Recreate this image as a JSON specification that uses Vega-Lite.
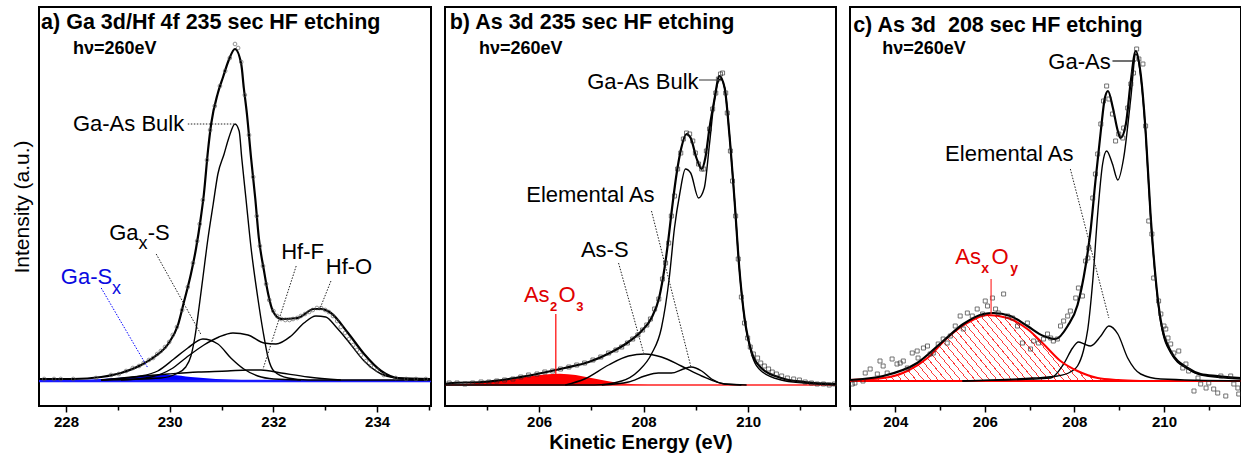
{
"$schema":"https://vega.github.io/schema/vega-lite/v6.json",
"padding":{"left":10,"top":6,"right":0,"bottom":0},
"spacing":14,
"bounds":"flush",
"config":{"font":"Liberation Sans","view":{"stroke":"black","strokeWidth":2},
"axis":{"grid":false,"domain":false,"labelFont":"Liberation Sans","labelFontSize":15,"labelFontWeight":"bold","labelColor":"black","tickColor":"black","tickWidth":1.5,"labelPadding":2,"titleFont":"Liberation Sans","titleColor":"black","labelOverlap":false,"labelFlush":false}},
"datasets":{
"A":[
{"s":"env","x":227.48,"y":1},{"s":"env","x":228.14,"y":1},{"s":"env","x":228.68,"y":3},{"s":"env","x":229.06,"y":7},{"s":"env","x":229.45,"y":15},{"s":"env","x":229.70,"y":23},{"s":"env","x":229.97,"y":36},{"s":"env","x":230.16,"y":55},{"s":"env","x":230.28,"y":79},{"s":"env","x":230.41,"y":106},{"s":"env","x":230.51,"y":132},{"s":"env","x":230.60,"y":162},{"s":"env","x":230.66,"y":186},{"s":"env","x":230.74,"y":230},{"s":"env","x":230.80,"y":256},{"s":"env","x":230.93,"y":287},{"s":"env","x":231.03,"y":303},{"s":"env","x":231.14,"y":320},{"s":"env","x":231.26,"y":331},{"s":"env","x":231.38,"y":316},{"s":"env","x":231.43,"y":292},{"s":"env","x":231.49,"y":266},{"s":"env","x":231.57,"y":222},{"s":"env","x":231.65,"y":182},{"s":"env","x":231.72,"y":142},{"s":"env","x":231.82,"y":109},{"s":"env","x":231.90,"y":86},{"s":"env","x":231.99,"y":69},{"s":"env","x":232.15,"y":61},{"s":"env","x":232.47,"y":62},{"s":"env","x":232.78,"y":71},{"s":"env","x":232.92,"y":71},{"s":"env","x":233.11,"y":67},{"s":"env","x":233.44,"y":47},{"s":"env","x":233.75,"y":26},{"s":"env","x":234.08,"y":9},{"s":"env","x":234.40,"y":2},{"s":"env","x":235.04,"y":1},
{"s":"bulk","x":228.68,"y":0},{"s":"bulk","x":229.83,"y":2},{"s":"bulk","x":230.12,"y":6},{"s":"bulk","x":230.31,"y":13},{"s":"bulk","x":230.41,"y":24},{"s":"bulk","x":230.49,"y":44},{"s":"bulk","x":230.57,"y":74},{"s":"bulk","x":230.64,"y":102},{"s":"bulk","x":230.74,"y":142},{"s":"bulk","x":230.84,"y":176},{"s":"bulk","x":230.93,"y":206},{"s":"bulk","x":231.05,"y":226},{"s":"bulk","x":231.14,"y":242},{"s":"bulk","x":231.26,"y":256},{"s":"bulk","x":231.34,"y":249},{"s":"bulk","x":231.39,"y":222},{"s":"bulk","x":231.47,"y":182},{"s":"bulk","x":231.57,"y":132},{"s":"bulk","x":231.70,"y":82},{"s":"bulk","x":231.80,"y":49},{"s":"bulk","x":231.90,"y":22},{"s":"bulk","x":232.01,"y":9},{"s":"bulk","x":232.28,"y":2},{"s":"bulk","x":232.67,"y":0},{"s":"bulk","x":235.04,"y":0},
{"s":"gaxs","x":228.68,"y":0},{"s":"gaxs","x":229.45,"y":4},{"s":"gaxs","x":229.77,"y":9},{"s":"gaxs","x":230.08,"y":21},{"s":"gaxs","x":230.35,"y":32},{"s":"gaxs","x":230.64,"y":41},{"s":"gaxs","x":230.93,"y":36},{"s":"gaxs","x":231.18,"y":22},{"s":"gaxs","x":231.43,"y":11},{"s":"gaxs","x":231.70,"y":4},{"s":"gaxs","x":232.01,"y":1},{"s":"gaxs","x":232.53,"y":0},
{"s":"hfo","x":229.06,"y":0},{"s":"hfo","x":229.64,"y":3},{"s":"hfo","x":230.03,"y":11},{"s":"hfo","x":230.31,"y":22},{"s":"hfo","x":230.66,"y":35},{"s":"hfo","x":230.95,"y":43},{"s":"hfo","x":231.22,"y":47},{"s":"hfo","x":231.51,"y":45},{"s":"hfo","x":231.82,"y":37},{"s":"hfo","x":232.05,"y":36},{"s":"hfo","x":232.34,"y":44},{"s":"hfo","x":232.59,"y":57},{"s":"hfo","x":232.82,"y":64},{"s":"hfo","x":233.01,"y":63},{"s":"hfo","x":233.21,"y":53},{"s":"hfo","x":233.44,"y":39},{"s":"hfo","x":233.75,"y":19},{"s":"hfo","x":234.08,"y":6},{"s":"hfo","x":234.36,"y":2},{"s":"hfo","x":234.98,"y":0},
{"s":"hff","x":228.68,"y":0},{"s":"hff","x":229.97,"y":6},{"s":"hff","x":230.55,"y":8},{"s":"hff","x":231.12,"y":9},{"s":"hff","x":231.51,"y":10},{"s":"hff","x":231.76,"y":10},{"s":"hff","x":232.15,"y":7},{"s":"hff","x":232.67,"y":3},{"s":"hff","x":233.30,"y":0},
{"s":"gasx","x":228.39,"y":0},{"s":"gasx","x":228.68,"y":1},{"s":"gasx","x":229.25,"y":3},{"s":"gasx","x":229.64,"y":5},{"s":"gasx","x":230.03,"y":5},{"s":"gasx","x":230.41,"y":3},{"s":"gasx","x":230.89,"y":1},{"s":"gasx","x":231.38,"y":0},
{"s":"raw","x":227.58,"y":1},{"s":"raw","x":227.77,"y":1},{"s":"raw","x":227.90,"y":1},{"s":"raw","x":228.14,"y":1},{"s":"raw","x":228.58,"y":2},{"s":"raw","x":228.87,"y":5},{"s":"raw","x":229.02,"y":6},{"s":"raw","x":229.16,"y":9},{"s":"raw","x":229.29,"y":12},{"s":"raw","x":229.41,"y":14},{"s":"raw","x":229.50,"y":17},{"s":"raw","x":229.60,"y":20},{"s":"raw","x":229.68,"y":22},{"s":"raw","x":229.76,"y":26},{"s":"raw","x":229.83,"y":29},{"s":"raw","x":229.91,"y":33},{"s":"raw","x":229.99,"y":38},{"s":"raw","x":230.06,"y":45},{"s":"raw","x":230.14,"y":53},{"s":"raw","x":230.24,"y":70},{"s":"raw","x":230.35,"y":93},{"s":"raw","x":230.45,"y":117},{"s":"raw","x":230.53,"y":139},{"s":"raw","x":230.58,"y":156},{"s":"raw","x":230.64,"y":180},{"s":"raw","x":230.72,"y":220},{"s":"raw","x":230.78,"y":250},{"s":"raw","x":230.87,"y":274},{"s":"raw","x":230.97,"y":294},{"s":"raw","x":231.07,"y":309},{"s":"raw","x":231.16,"y":322},{"s":"raw","x":231.26,"y":336},{"s":"raw","x":231.32,"y":332},{"s":"raw","x":231.38,"y":318},{"s":"raw","x":231.45,"y":285},{"s":"raw","x":231.53,"y":245},{"s":"raw","x":231.61,"y":203},{"s":"raw","x":231.68,"y":164},{"s":"raw","x":231.74,"y":134},{"s":"raw","x":231.80,"y":114},{"s":"raw","x":231.86,"y":96},{"s":"raw","x":231.92,"y":80},{"s":"raw","x":232.00,"y":69},{"s":"raw","x":232.07,"y":64},{"s":"raw","x":232.15,"y":61},{"s":"raw","x":232.23,"y":60},{"s":"raw","x":232.31,"y":60},{"s":"raw","x":232.38,"y":61},{"s":"raw","x":232.46,"y":62},{"s":"raw","x":232.53,"y":64},{"s":"raw","x":232.61,"y":66},{"s":"raw","x":232.69,"y":68},{"s":"raw","x":232.76,"y":70},{"s":"raw","x":232.84,"y":72},{"s":"raw","x":232.92,"y":72},{"s":"raw","x":233.00,"y":70},{"s":"raw","x":233.07,"y":68},{"s":"raw","x":233.15,"y":64},{"s":"raw","x":233.23,"y":59},{"s":"raw","x":233.30,"y":53},{"s":"raw","x":233.38,"y":47},{"s":"raw","x":233.46,"y":41},{"s":"raw","x":233.54,"y":35},{"s":"raw","x":233.61,"y":30},{"s":"raw","x":233.69,"y":25},{"s":"raw","x":233.79,"y":19},{"s":"raw","x":233.88,"y":14},{"s":"raw","x":234.00,"y":10},{"s":"raw","x":234.13,"y":5},{"s":"raw","x":234.36,"y":2},{"s":"raw","x":234.56,"y":1},{"s":"raw","x":234.75,"y":1},{"s":"raw","x":234.94,"y":1},
{"s":"base","x":227.48,"y":-1,"x2":235.04,"y2":-1},
{"s":"dot","x":230.35,"y":256,"x2":231.24,"y2":256},{"s":"dot","x":229.74,"y":126,"x2":230.60,"y2":46},{"s":"dot","x":232.44,"y":114,"x2":231.80,"y2":11},{"s":"dot","x":233.11,"y":99,"x2":232.88,"y2":69},
{"s":"bdot","x":228.68,"y":92,"x2":229.58,"y2":12},
{"s":"title","x":227.52,"y":351,"t":"a) Ga 3d/Hf 4f 235 sec HF etching"},
{"s":"hv","x":228.135,"y":326,"t":"hν=260eV"},
{"s":"labr","x":230.28,"y":249,"t":"Ga-As Bulk"},
{"s":"lab","x":228.835,"y":140,"t":"Ga"},{"s":"sub","x":229.40,"y":131,"t":"x"},{"s":"lab","x":229.575,"y":140,"t":"-S"},
{"s":"lab","x":232.15,"y":121,"t":"Hf-F"},{"s":"lab","x":233.01,"y":106,"t":"Hf-O"},
{"s":"blab","x":227.90,"y":96,"t":"Ga-S"},{"s":"bsub","x":228.89,"y":86,"t":"x"}
],
"B":[
{"s":"env","x":204.20,"y":1},{"s":"env","x":204.33,"y":2},{"s":"env","x":204.91,"y":3},{"s":"env","x":205.54,"y":7},{"s":"env","x":206.05,"y":12},{"s":"env","x":206.49,"y":17},{"s":"env","x":206.95,"y":23},{"s":"env","x":207.39,"y":33},{"s":"env","x":207.71,"y":43},{"s":"env","x":207.96,"y":54},{"s":"env","x":208.15,"y":67},{"s":"env","x":208.30,"y":88},{"s":"env","x":208.40,"y":117},{"s":"env","x":208.47,"y":144},{"s":"env","x":208.53,"y":171},{"s":"env","x":208.63,"y":211},{"s":"env","x":208.72,"y":237},{"s":"env","x":208.82,"y":251},{"s":"env","x":208.90,"y":247},{"s":"env","x":209.01,"y":227},{"s":"env","x":209.11,"y":216},{"s":"env","x":209.18,"y":227},{"s":"env","x":209.26,"y":257},{"s":"env","x":209.35,"y":284},{"s":"env","x":209.45,"y":309},{"s":"env","x":209.55,"y":297},{"s":"env","x":209.64,"y":251},{"s":"env","x":209.74,"y":184},{"s":"env","x":209.83,"y":117},{"s":"env","x":209.93,"y":67},{"s":"env","x":210.06,"y":34},{"s":"env","x":210.25,"y":17},{"s":"env","x":210.63,"y":7},{"s":"env","x":211.07,"y":3},{"s":"env","x":211.68,"y":1},
{"s":"bulk","x":204.20,"y":0},{"s":"bulk","x":207.06,"y":0},{"s":"bulk","x":207.58,"y":4},{"s":"bulk","x":207.90,"y":14},{"s":"bulk","x":208.15,"y":31},{"s":"bulk","x":208.34,"y":57},{"s":"bulk","x":208.49,"y":107},{"s":"bulk","x":208.59,"y":157},{"s":"bulk","x":208.69,"y":191},{"s":"bulk","x":208.80,"y":216},{"s":"bulk","x":208.90,"y":212},{"s":"bulk","x":209.05,"y":187},{"s":"bulk","x":209.16,"y":197},{"s":"bulk","x":209.26,"y":241},{"s":"bulk","x":209.35,"y":284},{"s":"bulk","x":209.47,"y":306},{"s":"bulk","x":209.55,"y":297},{"s":"bulk","x":209.64,"y":251},{"s":"bulk","x":209.74,"y":184},{"s":"bulk","x":209.83,"y":117},{"s":"bulk","x":209.93,"y":66},{"s":"bulk","x":210.06,"y":32},{"s":"bulk","x":210.25,"y":14},{"s":"bulk","x":210.63,"y":5},{"s":"bulk","x":211.07,"y":2},{"s":"bulk","x":211.68,"y":0},
{"s":"elem","x":207.20,"y":0},{"s":"elem","x":207.71,"y":3},{"s":"elem","x":208.02,"y":9},{"s":"elem","x":208.28,"y":12},{"s":"elem","x":208.53,"y":12},{"s":"elem","x":208.76,"y":16},{"s":"elem","x":208.91,"y":18},{"s":"elem","x":209.11,"y":14},{"s":"elem","x":209.30,"y":6},{"s":"elem","x":209.55,"y":1},{"s":"elem","x":209.87,"y":0},
{"s":"ass","x":206.50,"y":0},{"s":"ass","x":206.87,"y":6},{"s":"ass","x":207.33,"y":20},{"s":"ass","x":207.71,"y":29},{"s":"ass","x":208.02,"y":31},{"s":"ass","x":208.34,"y":28},{"s":"ass","x":208.72,"y":19},{"s":"ass","x":209.11,"y":9},{"s":"ass","x":209.55,"y":1},{"s":"ass","x":209.97,"y":0},
{"s":"ox","x":204.22,"y":0},{"s":"ox","x":204.70,"y":1.5},{"s":"ox","x":205.10,"y":3.5},{"s":"ox","x":205.50,"y":6},{"s":"ox","x":205.80,"y":8.5},{"s":"ox","x":206.10,"y":10.5},{"s":"ox","x":206.40,"y":11.3},{"s":"ox","x":206.70,"y":10},{"s":"ox","x":207.00,"y":7},{"s":"ox","x":207.30,"y":4},{"s":"ox","x":207.64,"y":1.5},{"s":"ox","x":208.09,"y":0},
{"s":"raw","x":204.28,"y":2},{"s":"raw","x":204.43,"y":2},{"s":"raw","x":204.58,"y":1},{"s":"raw","x":204.73,"y":2},{"s":"raw","x":204.89,"y":3},{"s":"raw","x":205.04,"y":3},{"s":"raw","x":205.19,"y":4},{"s":"raw","x":205.34,"y":5},{"s":"raw","x":205.50,"y":6},{"s":"raw","x":205.65,"y":8},{"s":"raw","x":205.80,"y":10},{"s":"raw","x":205.96,"y":11},{"s":"raw","x":206.11,"y":13},{"s":"raw","x":206.26,"y":14},{"s":"raw","x":206.41,"y":16},{"s":"raw","x":206.57,"y":18},{"s":"raw","x":206.72,"y":20},{"s":"raw","x":206.87,"y":22},{"s":"raw","x":207.03,"y":25},{"s":"raw","x":207.18,"y":28},{"s":"raw","x":207.33,"y":32},{"s":"raw","x":207.47,"y":35},{"s":"raw","x":207.58,"y":38},{"s":"raw","x":207.69,"y":42},{"s":"raw","x":207.79,"y":46},{"s":"raw","x":207.89,"y":50},{"s":"raw","x":207.98,"y":55},{"s":"raw","x":208.06,"y":60},{"s":"raw","x":208.13,"y":66},{"s":"raw","x":208.21,"y":76},{"s":"raw","x":208.29,"y":86},{"s":"raw","x":208.36,"y":106},{"s":"raw","x":208.42,"y":122},{"s":"raw","x":208.48,"y":142},{"s":"raw","x":208.53,"y":169},{"s":"raw","x":208.59,"y":189},{"s":"raw","x":208.65,"y":216},{"s":"raw","x":208.71,"y":232},{"s":"raw","x":208.76,"y":246},{"s":"raw","x":208.82,"y":252},{"s":"raw","x":208.88,"y":251},{"s":"raw","x":208.94,"y":244},{"s":"raw","x":208.99,"y":232},{"s":"raw","x":209.05,"y":221},{"s":"raw","x":209.11,"y":216},{"s":"raw","x":209.15,"y":216},{"s":"raw","x":209.20,"y":234},{"s":"raw","x":209.26,"y":256},{"s":"raw","x":209.32,"y":276},{"s":"raw","x":209.38,"y":292},{"s":"raw","x":209.43,"y":306},{"s":"raw","x":209.47,"y":311},{"s":"raw","x":209.51,"y":312},{"s":"raw","x":209.57,"y":292},{"s":"raw","x":209.60,"y":272},{"s":"raw","x":209.66,"y":234},{"s":"raw","x":209.70,"y":204},{"s":"raw","x":209.76,"y":169},{"s":"raw","x":209.81,"y":126},{"s":"raw","x":209.87,"y":88},{"s":"raw","x":209.93,"y":62},{"s":"raw","x":209.99,"y":47},{"s":"raw","x":210.04,"y":38},{"s":"raw","x":210.10,"y":31},{"s":"raw","x":210.18,"y":27},{"s":"raw","x":210.24,"y":22},{"s":"raw","x":210.31,"y":19},{"s":"raw","x":210.39,"y":16},{"s":"raw","x":210.46,"y":13},{"s":"raw","x":210.54,"y":11},{"s":"raw","x":210.64,"y":9},{"s":"raw","x":210.75,"y":7},{"s":"raw","x":210.87,"y":6},{"s":"raw","x":210.98,"y":5},{"s":"raw","x":211.09,"y":3},{"s":"raw","x":211.21,"y":2},{"s":"raw","x":211.32,"y":1},{"s":"raw","x":211.44,"y":1},{"s":"raw","x":211.55,"y":0},{"s":"raw","x":211.65,"y":1},
{"s":"base","x":204.2,"y":0,"x2":211.68,"y2":0},
{"s":"dot","x":208.15,"y":174,"x2":208.91,"y2":17},{"s":"dot","x":207.52,"y":122,"x2":208.00,"y2":32},
{"s":"sol","x":209.06,"y":305,"x2":209.43,"y2":305},
{"s":"rsol","x":206.32,"y":71,"x2":206.32,"y2":11},
{"s":"title","x":204.29,"y":356,"t":"b) As 3d 235 sec HF etching"},
{"s":"hv","x":204.85,"y":331,"t":"hν=260eV"},
{"s":"labr","x":209.05,"y":296,"t":"Ga-As Bulk"},
{"s":"labr","x":208.21,"y":183,"t":"Elemental As"},
{"s":"lab","x":206.80,"y":128,"t":"As-S"},
{"s":"rlab","x":205.71,"y":83,"t":"As"},{"s":"rsub","x":206.21,"y":74,"t":"2"},{"s":"rlab","x":206.37,"y":83,"t":"O"},{"s":"rsub","x":206.71,"y":74,"t":"3"}
],
"C":[
{"s":"env","x":202.99,"y":1},{"s":"env","x":203.73,"y":5},{"s":"env","x":204.49,"y":18},{"s":"env","x":205.07,"y":40},{"s":"env","x":205.52,"y":57},{"s":"env","x":205.97,"y":67},{"s":"env","x":206.19,"y":68},{"s":"env","x":206.57,"y":65},{"s":"env","x":206.95,"y":55},{"s":"env","x":207.31,"y":45},{"s":"env","x":207.58,"y":42},{"s":"env","x":207.85,"y":55},{"s":"env","x":208.07,"y":76},{"s":"env","x":208.25,"y":115},{"s":"env","x":208.36,"y":150},{"s":"env","x":208.47,"y":200},{"s":"env","x":208.59,"y":250},{"s":"env","x":208.68,"y":283},{"s":"env","x":208.75,"y":290},{"s":"env","x":208.86,"y":273},{"s":"env","x":208.97,"y":250},{"s":"env","x":209.03,"y":243},{"s":"env","x":209.15,"y":257},{"s":"env","x":209.26,"y":300},{"s":"env","x":209.37,"y":330},{"s":"env","x":209.48,"y":307},{"s":"env","x":209.59,"y":250},{"s":"env","x":209.70,"y":167},{"s":"env","x":209.82,"y":100},{"s":"env","x":209.93,"y":60},{"s":"env","x":210.15,"y":30},{"s":"env","x":210.53,"y":13},{"s":"env","x":210.82,"y":7},{"s":"env","x":211.20,"y":5},{"s":"env","x":211.72,"y":3},
{"s":"gaas","x":205.50,"y":0},{"s":"gaas","x":207.09,"y":3},{"s":"gaas","x":207.62,"y":5},{"s":"gaas","x":207.91,"y":9},{"s":"gaas","x":208.07,"y":15},{"s":"gaas","x":208.20,"y":30},{"s":"gaas","x":208.30,"y":52},{"s":"gaas","x":208.41,"y":100},{"s":"gaas","x":208.52,"y":167},{"s":"gaas","x":208.63,"y":217},{"s":"gaas","x":208.72,"y":230},{"s":"gaas","x":208.85,"y":217},{"s":"gaas","x":208.97,"y":201},{"s":"gaas","x":209.10,"y":223},{"s":"gaas","x":209.26,"y":283},{"s":"gaas","x":209.37,"y":327},{"s":"gaas","x":209.48,"y":305},{"s":"gaas","x":209.59,"y":248},{"s":"gaas","x":209.70,"y":165},{"s":"gaas","x":209.82,"y":98},{"s":"gaas","x":209.93,"y":58},{"s":"gaas","x":210.15,"y":28},{"s":"gaas","x":210.53,"y":12},{"s":"gaas","x":210.82,"y":6},{"s":"gaas","x":211.72,"y":2},
{"s":"elem","x":205.50,"y":0},{"s":"elem","x":207.47,"y":3},{"s":"elem","x":207.76,"y":17},{"s":"elem","x":207.96,"y":33},{"s":"elem","x":208.09,"y":39},{"s":"elem","x":208.22,"y":37},{"s":"elem","x":208.36,"y":35},{"s":"elem","x":208.59,"y":45},{"s":"elem","x":208.77,"y":55},{"s":"elem","x":208.97,"y":47},{"s":"elem","x":209.19,"y":23},{"s":"elem","x":209.48,"y":7},{"s":"elem","x":209.93,"y":2},{"s":"elem","x":211.72,"y":0},
{"s":"ox","x":202.99,"y":1},{"s":"ox","x":203.73,"y":3},{"s":"ox","x":204.27,"y":10},{"s":"ox","x":204.72,"y":23},{"s":"ox","x":205.16,"y":43},{"s":"ox","x":205.61,"y":58},{"s":"ox","x":206.06,"y":66},{"s":"ox","x":206.51,"y":63},{"s":"ox","x":206.95,"y":52},{"s":"ox","x":207.31,"y":37},{"s":"ox","x":207.69,"y":20},{"s":"ox","x":208.07,"y":10},{"s":"ox","x":208.52,"y":3},{"s":"ox","x":208.97,"y":1},{"s":"ox","x":209.48,"y":0},
{"s":"raw","x":203.04,"y":-3},{"s":"raw","x":203.10,"y":-2},{"s":"raw","x":203.28,"y":0},{"s":"raw","x":203.33,"y":8},{"s":"raw","x":203.44,"y":12},{"s":"raw","x":203.60,"y":7},{"s":"raw","x":203.66,"y":20},{"s":"raw","x":203.73,"y":15},{"s":"raw","x":203.82,"y":8},{"s":"raw","x":203.93,"y":22},{"s":"raw","x":204.04,"y":17},{"s":"raw","x":204.11,"y":18},{"s":"raw","x":204.18,"y":20},{"s":"raw","x":204.27,"y":13},{"s":"raw","x":204.38,"y":28},{"s":"raw","x":204.49,"y":30},{"s":"raw","x":204.51,"y":23},{"s":"raw","x":204.63,"y":33},{"s":"raw","x":204.72,"y":35},{"s":"raw","x":204.78,"y":27},{"s":"raw","x":204.85,"y":28},{"s":"raw","x":204.96,"y":37},{"s":"raw","x":205.07,"y":42},{"s":"raw","x":205.16,"y":38},{"s":"raw","x":205.23,"y":45},{"s":"raw","x":205.34,"y":55},{"s":"raw","x":205.45,"y":65},{"s":"raw","x":205.52,"y":52},{"s":"raw","x":205.61,"y":68},{"s":"raw","x":205.72,"y":65},{"s":"raw","x":205.83,"y":72},{"s":"raw","x":205.95,"y":67},{"s":"raw","x":206.01,"y":80},{"s":"raw","x":206.06,"y":75},{"s":"raw","x":206.17,"y":83},{"s":"raw","x":206.24,"y":72},{"s":"raw","x":206.30,"y":68},{"s":"raw","x":206.42,"y":87},{"s":"raw","x":206.51,"y":65},{"s":"raw","x":206.62,"y":63},{"s":"raw","x":206.73,"y":55},{"s":"raw","x":206.84,"y":38},{"s":"raw","x":206.95,"y":58},{"s":"raw","x":207.02,"y":32},{"s":"raw","x":207.09,"y":40},{"s":"raw","x":207.20,"y":38},{"s":"raw","x":207.31,"y":42},{"s":"raw","x":207.40,"y":47},{"s":"raw","x":207.47,"y":43},{"s":"raw","x":207.53,"y":40},{"s":"raw","x":207.62,"y":42},{"s":"raw","x":207.69,"y":55},{"s":"raw","x":207.76,"y":60},{"s":"raw","x":207.85,"y":65},{"s":"raw","x":207.91,"y":70},{"s":"raw","x":208.03,"y":83},{"s":"raw","x":208.09,"y":93},{"s":"raw","x":208.18,"y":85},{"s":"raw","x":208.25,"y":120},{"s":"raw","x":208.30,"y":123},{"s":"raw","x":208.32,"y":133},{"s":"raw","x":208.41,"y":183},{"s":"raw","x":208.47,"y":207},{"s":"raw","x":208.52,"y":227},{"s":"raw","x":208.59,"y":257},{"s":"raw","x":208.65,"y":280},{"s":"raw","x":208.72,"y":295},{"s":"raw","x":208.77,"y":282},{"s":"raw","x":208.85,"y":267},{"s":"raw","x":208.92,"y":240},{"s":"raw","x":208.99,"y":247},{"s":"raw","x":209.08,"y":243},{"s":"raw","x":209.10,"y":253},{"s":"raw","x":209.19,"y":273},{"s":"raw","x":209.26,"y":297},{"s":"raw","x":209.32,"y":308},{"s":"raw","x":209.39,"y":332},{"s":"raw","x":209.44,"y":322},{"s":"raw","x":209.53,"y":317},{"s":"raw","x":209.59,"y":255},{"s":"raw","x":209.66,"y":160},{"s":"raw","x":209.73,"y":147},{"s":"raw","x":209.77,"y":103},{"s":"raw","x":209.88,"y":80},{"s":"raw","x":209.93,"y":67},{"s":"raw","x":210.00,"y":55},{"s":"raw","x":210.04,"y":52},{"s":"raw","x":210.09,"y":43},{"s":"raw","x":210.15,"y":37},{"s":"raw","x":210.22,"y":28},{"s":"raw","x":210.33,"y":30},{"s":"raw","x":210.42,"y":13},{"s":"raw","x":210.49,"y":17},{"s":"raw","x":210.55,"y":10},{"s":"raw","x":210.67,"y":-10},{"s":"raw","x":210.76,"y":3},{"s":"raw","x":210.82,"y":-3},{"s":"raw","x":210.94,"y":-7},{"s":"raw","x":211.00,"y":-2},{"s":"raw","x":211.11,"y":-8},{"s":"raw","x":211.20,"y":-12},{"s":"raw","x":211.27,"y":5},{"s":"raw","x":211.38,"y":-15},{"s":"raw","x":211.49,"y":5},{"s":"raw","x":211.56,"y":-3},{"s":"raw","x":211.65,"y":-7},{"s":"raw","x":211.67,"y":-13},
{"s":"base","x":202.99,"y":0,"x2":211.72,"y2":0},
{"s":"sol","x":208.85,"y":320,"x2":209.37,"y2":320},
{"s":"dot","x":207.91,"y":212,"x2":208.77,"y2":63},
{"s":"rsol","x":206.14,"y":102,"x2":206.14,"y2":67},
{"s":"title","x":203.06,"y":349,"t":"c) As 3d\u00a0 208 sec HF etching"},
{"s":"hv","x":203.71,"y":327,"t":"hν=260eV"},
{"s":"labr","x":208.81,"y":312,"t":"Ga-As"},
{"s":"labr","x":207.98,"y":220,"t":"Elemental As"},
{"s":"rlab","x":205.34,"y":117,"t":"As"},{"s":"rsub","x":205.92,"y":108,"t":"x"},{"s":"rlab","x":206.15,"y":117,"t":"O"},{"s":"rsub","x":206.57,"y":108,"t":"y"}
]
},
"hconcat":[
{"width":392,"height":399,"data":{"name":"A"},
"encoding":{
"x":{"field":"x","type":"quantitative","scale":{"domain":[227.48,235.04],"nice":false,"zero":false},"axis":{"values":[228,229,230,231,232,233,234,235],"labelExpr":"datum.value % 2 === 0 ? datum.label : ''","tickSize":{"condition":{"test":"datum.value % 2 === 0","value":6},"value":4},"title":null,"format":"d"}},
"y":{"field":"y","type":"quantitative","scale":{"domain":[-26,373],"nice":false,"zero":false},"axis":{"title":"Intensity (a.u.)","labels":false,"ticks":false,"domain":false,"titleFontSize":21,"titleFontWeight":"normal","titlePadding":7}}},
"layer":[
{"transform":[{"filter":"datum.s=='gasx'"}],"mark":{"type":"area","color":"#0000ff","interpolate":"monotone"},"encoding":{"y2":{"datum":0}}},
{"transform":[{"filter":"datum.s=='base'"}],"mark":{"type":"rule","color":"#1a1aff","strokeWidth":2.5},"encoding":{"x2":{"field":"x2"},"y2":{"field":"y2"}}},
{"transform":[{"filter":"indexof(['bulk','gaxs','hfo','hff'], datum.s) >= 0"}],"mark":{"type":"line","color":"black","strokeWidth":1.4,"interpolate":"monotone"},"encoding":{"detail":{"field":"s"}}},
{"transform":[{"filter":"datum.s=='env'"}],"mark":{"type":"line","color":"black","strokeWidth":2.2,"interpolate":"monotone"}},
{"transform":[{"filter":"datum.s=='raw'"}],"mark":{"type":"point","shape":"circle","filled":false,"color":"#555555","size":14,"strokeWidth":0.9}},
{"transform":[{"filter":"datum.s=='dot'"}],"mark":{"type":"rule","color":"#222222","strokeWidth":1,"strokeDash":[1.5,1.5]},"encoding":{"x2":{"field":"x2"},"y2":{"field":"y2"}}},
{"transform":[{"filter":"datum.s=='bdot'"}],"mark":{"type":"rule","color":"#0000ff","strokeWidth":1,"strokeDash":[1.5,1.5]},"encoding":{"x2":{"field":"x2"},"y2":{"field":"y2"}}},
{"transform":[{"filter":"datum.s=='title'"}],"mark":{"type":"text","align":"left","baseline":"alphabetic","fontSize":21.5,"fontWeight":"bold","color":"black"},"encoding":{"text":{"field":"t"}}},
{"transform":[{"filter":"datum.s=='hv'"}],"mark":{"type":"text","align":"left","baseline":"alphabetic","fontSize":18,"fontWeight":"bold","color":"black"},"encoding":{"text":{"field":"t"}}},
{"transform":[{"filter":"datum.s=='lab'"}],"mark":{"type":"text","align":"left","baseline":"alphabetic","fontSize":22,"color":"black"},"encoding":{"text":{"field":"t"}}},
{"transform":[{"filter":"datum.s=='labr'"}],"mark":{"type":"text","align":"right","baseline":"alphabetic","fontSize":22,"color":"black"},"encoding":{"text":{"field":"t"}}},
{"transform":[{"filter":"datum.s=='sub'"}],"mark":{"type":"text","align":"left","baseline":"alphabetic","fontSize":18,"color":"black"},"encoding":{"text":{"field":"t"}}},
{"transform":[{"filter":"datum.s=='blab'"}],"mark":{"type":"text","align":"left","baseline":"alphabetic","fontSize":22,"color":"#0a0ae0"},"encoding":{"text":{"field":"t"}}},
{"transform":[{"filter":"datum.s=='bsub'"}],"mark":{"type":"text","align":"left","baseline":"alphabetic","fontSize":18,"color":"#0a0ae0"},"encoding":{"text":{"field":"t"}}}
]},
{"width":391,"height":399,"data":{"name":"B"},
"encoding":{
"x":{"field":"x","type":"quantitative","scale":{"domain":[204.2,211.68],"nice":false,"zero":false},"axis":{"values":[205,206,207,208,209,210,211],"labelExpr":"datum.value % 2 === 0 ? datum.label : ''","tickSize":{"condition":{"test":"datum.value % 2 === 0","value":6},"value":4},"title":"Kinetic Energy (eV)","titleFontSize":20,"titleFontWeight":"bold","titlePadding":3,"format":"d"}},
"y":{"field":"y","type":"quantitative","scale":{"domain":[-21,378],"nice":false,"zero":false},"axis":null}},
"layer":[
{"transform":[{"filter":"datum.s=='ox'"}],"mark":{"type":"area","color":"#ff0000","interpolate":"monotone"},"encoding":{"y2":{"datum":0}}},
{"transform":[{"filter":"datum.s=='base'"}],"mark":{"type":"rule","color":"#ff2020","strokeWidth":1.5},"encoding":{"x2":{"field":"x2"},"y2":{"field":"y2"}}},
{"transform":[{"filter":"indexof(['bulk','elem','ass'], datum.s) >= 0"}],"mark":{"type":"line","color":"black","strokeWidth":1.4,"interpolate":"monotone"},"encoding":{"detail":{"field":"s"}}},
{"transform":[{"filter":"datum.s=='env'"}],"mark":{"type":"line","color":"black","strokeWidth":2.2,"interpolate":"monotone"}},
{"transform":[{"filter":"datum.s=='raw'"}],"mark":{"type":"point","shape":"square","filled":false,"color":"#222222","size":16,"strokeWidth":0.9}},
{"transform":[{"filter":"datum.s=='dot'"}],"mark":{"type":"rule","color":"#222222","strokeWidth":1,"strokeDash":[1.5,1.5]},"encoding":{"x2":{"field":"x2"},"y2":{"field":"y2"}}},
{"transform":[{"filter":"datum.s=='sol'"}],"mark":{"type":"rule","color":"#555555","strokeWidth":1.2},"encoding":{"x2":{"field":"x2"},"y2":{"field":"y2"}}},
{"transform":[{"filter":"datum.s=='rsol'"}],"mark":{"type":"rule","color":"#ff0000","strokeWidth":1.2},"encoding":{"x2":{"field":"x2"},"y2":{"field":"y2"}}},
{"transform":[{"filter":"datum.s=='title'"}],"mark":{"type":"text","align":"left","baseline":"alphabetic","fontSize":21.5,"fontWeight":"bold","color":"black"},"encoding":{"text":{"field":"t"}}},
{"transform":[{"filter":"datum.s=='hv'"}],"mark":{"type":"text","align":"left","baseline":"alphabetic","fontSize":18,"fontWeight":"bold","color":"black"},"encoding":{"text":{"field":"t"}}},
{"transform":[{"filter":"datum.s=='lab'"}],"mark":{"type":"text","align":"left","baseline":"alphabetic","fontSize":22,"color":"black"},"encoding":{"text":{"field":"t"}}},
{"transform":[{"filter":"datum.s=='labr'"}],"mark":{"type":"text","align":"right","baseline":"alphabetic","fontSize":22,"color":"black"},"encoding":{"text":{"field":"t"}}},
{"transform":[{"filter":"datum.s=='rlab'"}],"mark":{"type":"text","align":"left","baseline":"alphabetic","fontSize":22,"color":"#e00000"},"encoding":{"text":{"field":"t"}}},
{"transform":[{"filter":"datum.s=='rsub'"}],"mark":{"type":"text","align":"left","baseline":"alphabetic","fontSize":13,"fontWeight":"bold","color":"#e00000"},"encoding":{"text":{"field":"t"}}}
]},
{"width":391,"height":399,"data":{"name":"C"},
"encoding":{
"x":{"field":"x","type":"quantitative","scale":{"domain":[202.99,211.72],"nice":false,"zero":false},"axis":{"values":[203,204,205,206,207,208,209,210,211],"labelExpr":"datum.value % 2 === 0 ? datum.label : ''","tickSize":{"condition":{"test":"datum.value % 2 === 0","value":6},"value":4},"title":null,"format":"d"}},
"y":{"field":"y","type":"quantitative","scale":{"domain":[-25,374],"nice":false,"zero":false},"axis":null}},
"layer":[
{"transform":[{"filter":"datum.s=='ox'"}],"mark":{"type":"area","interpolate":"monotone","fill":{"gradient":"linear","x1":0,"y1":1,"x2":1,"y2":0.811,"stops":[
{"offset":0,"color":"#ff3c3c"},{"offset":0.0035,"color":"#ff3c3c"},{"offset":0.0035,"color":"#ffffff"},
{"offset":0.0245,"color":"#ffffff"},{"offset":0.0245,"color":"#ff3c3c"},{"offset":0.028,"color":"#ff3c3c"},{"offset":0.028,"color":"#ffffff"},
{"offset":0.049,"color":"#ffffff"},{"offset":0.049,"color":"#ff3c3c"},{"offset":0.0525,"color":"#ff3c3c"},{"offset":0.0525,"color":"#ffffff"},
{"offset":0.0735,"color":"#ffffff"},{"offset":0.0735,"color":"#ff3c3c"},{"offset":0.077,"color":"#ff3c3c"},{"offset":0.077,"color":"#ffffff"},
{"offset":0.098,"color":"#ffffff"},{"offset":0.098,"color":"#ff3c3c"},{"offset":0.1015,"color":"#ff3c3c"},{"offset":0.1015,"color":"#ffffff"},
{"offset":0.1225,"color":"#ffffff"},{"offset":0.1225,"color":"#ff3c3c"},{"offset":0.126,"color":"#ff3c3c"},{"offset":0.126,"color":"#ffffff"},
{"offset":0.147,"color":"#ffffff"},{"offset":0.147,"color":"#ff3c3c"},{"offset":0.1505,"color":"#ff3c3c"},{"offset":0.1505,"color":"#ffffff"},
{"offset":0.1715,"color":"#ffffff"},{"offset":0.1715,"color":"#ff3c3c"},{"offset":0.175,"color":"#ff3c3c"},{"offset":0.175,"color":"#ffffff"},
{"offset":0.196,"color":"#ffffff"},{"offset":0.196,"color":"#ff3c3c"},{"offset":0.1995,"color":"#ff3c3c"},{"offset":0.1995,"color":"#ffffff"},
{"offset":0.2205,"color":"#ffffff"},{"offset":0.2205,"color":"#ff3c3c"},{"offset":0.224,"color":"#ff3c3c"},{"offset":0.224,"color":"#ffffff"},
{"offset":0.245,"color":"#ffffff"},{"offset":0.245,"color":"#ff3c3c"},{"offset":0.2485,"color":"#ff3c3c"},{"offset":0.2485,"color":"#ffffff"},
{"offset":0.2695,"color":"#ffffff"},{"offset":0.2695,"color":"#ff3c3c"},{"offset":0.273,"color":"#ff3c3c"},{"offset":0.273,"color":"#ffffff"},
{"offset":0.294,"color":"#ffffff"},{"offset":0.294,"color":"#ff3c3c"},{"offset":0.2975,"color":"#ff3c3c"},{"offset":0.2975,"color":"#ffffff"},
{"offset":0.3185,"color":"#ffffff"},{"offset":0.3185,"color":"#ff3c3c"},{"offset":0.322,"color":"#ff3c3c"},{"offset":0.322,"color":"#ffffff"},
{"offset":0.343,"color":"#ffffff"},{"offset":0.343,"color":"#ff3c3c"},{"offset":0.3465,"color":"#ff3c3c"},{"offset":0.3465,"color":"#ffffff"},
{"offset":0.3675,"color":"#ffffff"},{"offset":0.3675,"color":"#ff3c3c"},{"offset":0.371,"color":"#ff3c3c"},{"offset":0.371,"color":"#ffffff"},
{"offset":0.392,"color":"#ffffff"},{"offset":0.392,"color":"#ff3c3c"},{"offset":0.3955,"color":"#ff3c3c"},{"offset":0.3955,"color":"#ffffff"},
{"offset":0.4165,"color":"#ffffff"},{"offset":0.4165,"color":"#ff3c3c"},{"offset":0.42,"color":"#ff3c3c"},{"offset":0.42,"color":"#ffffff"},
{"offset":0.441,"color":"#ffffff"},{"offset":0.441,"color":"#ff3c3c"},{"offset":0.4445,"color":"#ff3c3c"},{"offset":0.4445,"color":"#ffffff"},
{"offset":0.4655,"color":"#ffffff"},{"offset":0.4655,"color":"#ff3c3c"},{"offset":0.469,"color":"#ff3c3c"},{"offset":0.469,"color":"#ffffff"},
{"offset":0.49,"color":"#ffffff"},{"offset":0.49,"color":"#ff3c3c"},{"offset":0.4935,"color":"#ff3c3c"},{"offset":0.4935,"color":"#ffffff"},
{"offset":0.5145,"color":"#ffffff"},{"offset":0.5145,"color":"#ff3c3c"},{"offset":0.518,"color":"#ff3c3c"},{"offset":0.518,"color":"#ffffff"},
{"offset":0.539,"color":"#ffffff"},{"offset":0.539,"color":"#ff3c3c"},{"offset":0.5425,"color":"#ff3c3c"},{"offset":0.5425,"color":"#ffffff"},
{"offset":0.5635,"color":"#ffffff"},{"offset":0.5635,"color":"#ff3c3c"},{"offset":0.567,"color":"#ff3c3c"},{"offset":0.567,"color":"#ffffff"},
{"offset":0.588,"color":"#ffffff"},{"offset":0.588,"color":"#ff3c3c"},{"offset":0.5915,"color":"#ff3c3c"},{"offset":0.5915,"color":"#ffffff"},
{"offset":0.6125,"color":"#ffffff"},{"offset":0.6125,"color":"#ff3c3c"},{"offset":0.616,"color":"#ff3c3c"},{"offset":0.616,"color":"#ffffff"},
{"offset":0.637,"color":"#ffffff"},{"offset":0.637,"color":"#ff3c3c"},{"offset":0.6405,"color":"#ff3c3c"},{"offset":0.6405,"color":"#ffffff"},
{"offset":0.6615,"color":"#ffffff"},{"offset":0.6615,"color":"#ff3c3c"},{"offset":0.665,"color":"#ff3c3c"},{"offset":0.665,"color":"#ffffff"},
{"offset":0.686,"color":"#ffffff"},{"offset":0.686,"color":"#ff3c3c"},{"offset":0.6895,"color":"#ff3c3c"},{"offset":0.6895,"color":"#ffffff"},
{"offset":0.7105,"color":"#ffffff"},{"offset":0.7105,"color":"#ff3c3c"},{"offset":0.714,"color":"#ff3c3c"},{"offset":0.714,"color":"#ffffff"},
{"offset":0.735,"color":"#ffffff"},{"offset":0.735,"color":"#ff3c3c"},{"offset":0.7385,"color":"#ff3c3c"},{"offset":0.7385,"color":"#ffffff"},
{"offset":0.7595,"color":"#ffffff"},{"offset":0.7595,"color":"#ff3c3c"},{"offset":0.763,"color":"#ff3c3c"},{"offset":0.763,"color":"#ffffff"},
{"offset":0.784,"color":"#ffffff"},{"offset":0.784,"color":"#ff3c3c"},{"offset":0.7875,"color":"#ff3c3c"},{"offset":0.7875,"color":"#ffffff"},
{"offset":0.8085,"color":"#ffffff"},{"offset":0.8085,"color":"#ff3c3c"},{"offset":0.812,"color":"#ff3c3c"},{"offset":0.812,"color":"#ffffff"},
{"offset":0.833,"color":"#ffffff"},{"offset":0.833,"color":"#ff3c3c"},{"offset":0.8365,"color":"#ff3c3c"},{"offset":0.8365,"color":"#ffffff"},
{"offset":0.8575,"color":"#ffffff"},{"offset":0.8575,"color":"#ff3c3c"},{"offset":0.861,"color":"#ff3c3c"},{"offset":0.861,"color":"#ffffff"},
{"offset":0.882,"color":"#ffffff"},{"offset":0.882,"color":"#ff3c3c"},{"offset":0.8855,"color":"#ff3c3c"},{"offset":0.8855,"color":"#ffffff"},
{"offset":0.9065,"color":"#ffffff"},{"offset":0.9065,"color":"#ff3c3c"},{"offset":0.91,"color":"#ff3c3c"},{"offset":0.91,"color":"#ffffff"},
{"offset":0.931,"color":"#ffffff"},{"offset":0.931,"color":"#ff3c3c"},{"offset":0.9345,"color":"#ff3c3c"},{"offset":0.9345,"color":"#ffffff"},
{"offset":0.9555,"color":"#ffffff"},{"offset":0.9555,"color":"#ff3c3c"},{"offset":0.959,"color":"#ff3c3c"},{"offset":0.959,"color":"#ffffff"},
{"offset":1,"color":"#ffffff"}]}},"encoding":{"y2":{"datum":0}}},
{"transform":[{"filter":"datum.s=='base'"}],"mark":{"type":"rule","color":"#ff0000","strokeWidth":2},"encoding":{"x2":{"field":"x2"},"y2":{"field":"y2"}}},
{"transform":[{"filter":"indexof(['gaas','elem'], datum.s) >= 0"}],"mark":{"type":"line","color":"black","strokeWidth":1.4,"interpolate":"monotone"},"encoding":{"detail":{"field":"s"}}},
{"transform":[{"filter":"datum.s=='ox'"}],"mark":{"type":"line","color":"#ff0000","strokeWidth":2,"interpolate":"monotone"}},
{"transform":[{"filter":"datum.s=='env'"}],"mark":{"type":"line","color":"black","strokeWidth":2.2,"interpolate":"monotone"}},
{"transform":[{"filter":"datum.s=='raw'"}],"mark":{"type":"point","shape":"square","filled":false,"color":"#222222","size":16,"strokeWidth":0.9}},
{"transform":[{"filter":"datum.s=='dot'"}],"mark":{"type":"rule","color":"#222222","strokeWidth":1,"strokeDash":[1.5,1.5]},"encoding":{"x2":{"field":"x2"},"y2":{"field":"y2"}}},
{"transform":[{"filter":"datum.s=='sol'"}],"mark":{"type":"rule","color":"#111111","strokeWidth":1.2},"encoding":{"x2":{"field":"x2"},"y2":{"field":"y2"}}},
{"transform":[{"filter":"datum.s=='rsol'"}],"mark":{"type":"rule","color":"#ff3030","strokeWidth":1.2},"encoding":{"x2":{"field":"x2"},"y2":{"field":"y2"}}},
{"transform":[{"filter":"datum.s=='title'"}],"mark":{"type":"text","align":"left","baseline":"alphabetic","fontSize":21.5,"fontWeight":"bold","color":"black"},"encoding":{"text":{"field":"t"}}},
{"transform":[{"filter":"datum.s=='hv'"}],"mark":{"type":"text","align":"left","baseline":"alphabetic","fontSize":18,"fontWeight":"bold","color":"black"},"encoding":{"text":{"field":"t"}}},
{"transform":[{"filter":"datum.s=='labr'"}],"mark":{"type":"text","align":"right","baseline":"alphabetic","fontSize":22,"color":"black"},"encoding":{"text":{"field":"t"}}},
{"transform":[{"filter":"datum.s=='rlab'"}],"mark":{"type":"text","align":"left","baseline":"alphabetic","fontSize":22,"color":"#e00000"},"encoding":{"text":{"field":"t"}}},
{"transform":[{"filter":"datum.s=='rsub'"}],"mark":{"type":"text","align":"left","baseline":"alphabetic","fontSize":14,"fontWeight":"bold","color":"#e00000"},"encoding":{"text":{"field":"t"}}}
]}
]
}
